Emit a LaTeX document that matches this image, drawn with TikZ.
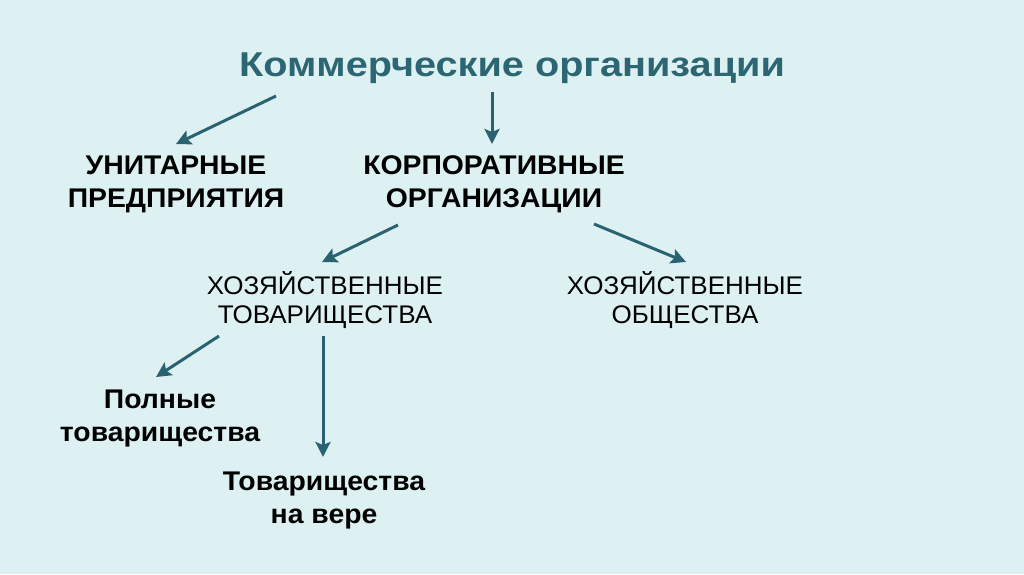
\documentclass[tikz,border=0pt]{standalone}
\usepackage{fontspec}
\setmainfont{Liberation Sans}
\newfontfamily\titlefont[FakeStretch=1.15]{Liberation Sans Bold}
\newfontfamily\boldbody[FakeStretch=1.05]{Liberation Sans Bold}
\newfontfamily\regbody[FakeStretch=1.02]{Liberation Sans}
\usetikzlibrary{arrows.meta}
\definecolor{bgc}{HTML}{DDF1F2}
\definecolor{titlec}{HTML}{2C6673}
\definecolor{arrc}{HTML}{2A6272}
\begin{document}
\begin{tikzpicture}[x=1pt,y=-1pt,
  lab/.style={align=center,inner sep=0pt,text=black},
  bl/.style={lab,font=\boldbody\fontsize{27}{33}\selectfont},
  rl/.style={lab,font=\regbody\fontsize{25.5}{29}\selectfont},
  arr/.style={draw=arrc,line width=3pt,-{Stealth[length=15pt,width=15pt,inset=3pt]}}]
\fill[bgc] (0,0) rectangle (1024,574);
\useasboundingbox (0,0) rectangle (1024,574);
% title
\node[lab,text=titlec,font=\titlefont\fontsize{34.5}{40}\selectfont] (title) at (512,68) {Коммерческие организации};
% level 1
\node[bl] (unit) at (176,184) {УНИТАРНЫЕ\\ПРЕДПРИЯТИЯ};
\node[bl] (corp) at (494,184) {КОРПОРАТИВНЫЕ\\ОРГАНИЗАЦИИ};
% level 2
\node[rl] (htov) at (325,300) {ХОЗЯЙСТВЕННЫЕ\\ТОВАРИЩЕСТВА};
\node[rl] (hob) at (685,300) {ХОЗЯЙСТВЕННЫЕ\\ОБЩЕСТВА};
% level 3
\node[bl] (poln) at (160,419) {Полные\\товарищества};
\node[bl] (vera) at (324,501) {Товарищества\\на вере};
% arrow end points
\coordinate (a1s) at (276,96);  \coordinate (a1e) at (176,144);
\coordinate (a2s) at (492,92);  \coordinate (a2e) at (492,144);
\coordinate (a3s) at (398,225); \coordinate (a3e) at (322,262);
\coordinate (a4s) at (594,224); \coordinate (a4e) at (686,262);
\coordinate (a5s) at (219,336); \coordinate (a5e) at (156,377);
\coordinate (a6s) at (323,336); \coordinate (a6e) at (323,457);
\draw[arr] (a1s) -- (a1e);
\draw[arr] (a2s) -- (a2e);
\draw[arr] (a3s) -- (a3e);
\draw[arr] (a4s) -- (a4e);
\draw[arr] (a5s) -- (a5e);
\draw[arr] (a6s) -- (a6e);
\end{tikzpicture}
\end{document}
